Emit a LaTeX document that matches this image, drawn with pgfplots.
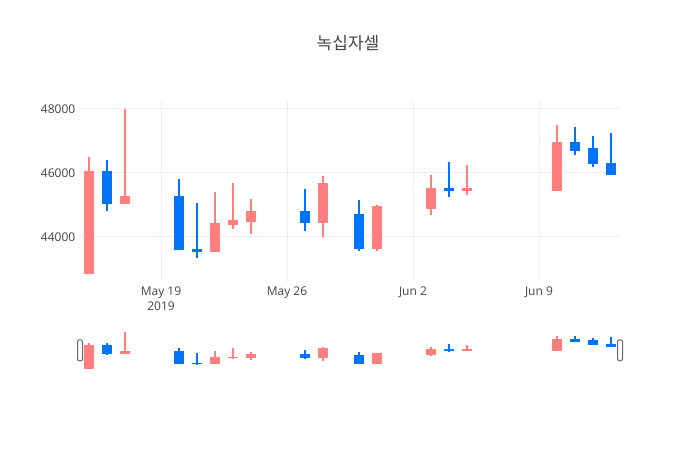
\documentclass[border=0pt]{standalone}
\usepackage{pgfplots}
\pgfplotsset{compat=1.18}
\usepackage{pgfplotstable}
\usepackage{fontspec}
\setmainfont{Open Sans}
\newfontfamily\krfont{Noto Sans CJK KR}

\definecolor{up}{HTML}{FF7F7F}
\definecolor{down}{HTML}{0073FF}
\definecolor{txt}{HTML}{444444}
\definecolor{gridc}{HTML}{EEEEEE}

% x = days from 19 May 2019
\pgfplotstableread{
x  o     h     l     c
-4 42850 46500 42850 46050
-2 45050 48000 45050 45250
3  43550 45400 43550 44400
4  44400 45700 44250 44500
5  44500 45200 44100 44800
9  44450 45900 44000 45650
12 43650 45000 43550 44950
15 44900 45950 44700 45500
17 45450 46250 45300 45500
22 45450 47500 45450 46950
}\uptable

\pgfplotstableread{
x  o     h     l     c
-3 46050 46400 44800 45050
1  45250 45800 43600 43600
2  43600 45050 43350 43550
8  44800 45500 44200 44450
11 44700 45150 43550 43650
16 45500 46350 45250 45450
23 46950 47450 46550 46700
24 46750 47150 46200 46300
25 46300 47250 45950 45950
}\downtable

% #1 table, #2 colour, #3 wick width, #4 body width, #5 body pad
\newcommand{\candles}[5]{%
  \addplot[draw=none, mark=none, forget plot,
    error bars/.cd, y dir=plus, y explicit, error mark=none,
    error bar style={draw=#2, line width=#3, solid}]
    table[x=x, y=l, y error expr={\thisrow{h}-\thisrow{l}}] {#1};
  \addplot[draw=none, mark=none, forget plot,
    error bars/.cd, y dir=plus, y explicit, error mark=none,
    error bar style={draw=#2, line width=#4, solid}]
    table[x=x, y expr={min(\thisrow{o},\thisrow{c})-#5},
      y error expr={abs(\thisrow{c}-\thisrow{o})+2*#5}] {#1};
}

\begin{document}
\begin{tikzpicture}
\path[use as bounding box] (0,0) rectangle (525pt,337.5pt);

\node[font=\krfont\fontsize{12.75}{15}\selectfont, text=txt] at (261pt,305pt) {녹십자셀};

\begin{axis}[
  at={(60pt,126pt)}, anchor=south west,
  scale only axis, width=405pt, height=136.5pt,
  xmin=-4.5, xmax=25.5,
  ymin=42590, ymax=48280,
  axis line style={draw=none},
  major tick length=0pt,
  scaled y ticks=false,
  xtick={0,7,14,21},
  xticklabels={{May 19\\2019},{May 26},{Jun 2},{Jun 9}},
  ytick={44000,46000,48000},
  yticklabels={44000,46000,48000},
  grid=major,
  grid style={draw=gridc, line width=0.75pt},
  ticklabel style={font=\fontsize{9}{11}\selectfont, text=txt},
  xticklabel style={align=center},
]
\candles{\uptable}{up}{1.5pt}{7.5pt}{25}
\candles{\downtable}{down}{1.5pt}{7.5pt}{25}
\end{axis}

\begin{axis}[
  at={(60pt,59.5pt)}, anchor=south west,
  scale only axis, width=405pt, height=30.5pt,
  xmin=-4.5, xmax=25.5,
  ymin=42590, ymax=48280,
  hide axis, clip=false,
]
\candles{\uptable}{up}{1pt}{7.5pt}{70}
\candles{\downtable}{down}{1pt}{7.5pt}{70}
\node[draw=txt!80, fill=white, rounded corners=1.5pt, line width=0.75pt,
  minimum width=3.75pt, minimum height=15.75pt, inner sep=0pt]
  at (rel axis cs:0,0.5) {};
\node[draw=txt!80, fill=white, rounded corners=1.5pt, line width=0.75pt,
  minimum width=3.75pt, minimum height=15.75pt, inner sep=0pt]
  at (rel axis cs:1,0.5) {};
\end{axis}
\end{tikzpicture}
\end{document}
